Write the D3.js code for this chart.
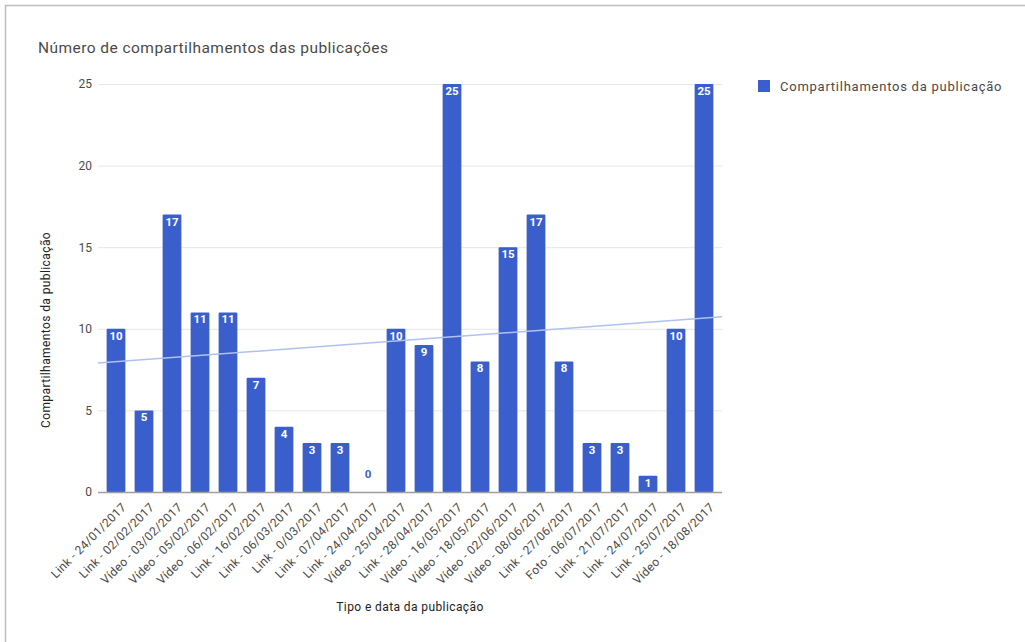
<!DOCTYPE html>
<html>
<head>
<meta charset="utf-8">
<script src="https://cdn.jsdelivr.net/npm/d3@7"></script>
<style>
  html, body { margin: 0; padding: 0; background: #fff; }
  svg { display: block; font-family: Roboto, "Liberation Sans", Arial, sans-serif; }
</style>
</head>
<body>
<svg id="chart" width="1025" height="642"></svg>
<script>
// Publication type and date
const categories = [
  "Link - 24/01/2017", "Link - 02/02/2017", "Vídeo - 03/02/2017", "Vídeo - 05/02/2017",
  "Vídeo - 06/02/2017", "Link - 16/02/2017", "Link - 06/03/2017", "Link - 0/03/2017",
  "Link - 07/04/2017", "Link - 24/04/2017", "Vídeo - 25/04/2017", "Link - 28/04/2017",
  "Vídeo - 16/05/2017", "Vídeo - 18/05/2017", "Vídeo - 02/06/2017", "Vídeo - 08/06/2017",
  "Link - 27/06/2017", "Foto - 06/07/2017", "Link - 21/07/2017", "Link - 24/07/2017",
  "Link - 25/07/2017", "Vídeo - 18/08/2017"
];
// Shares per publication
const shares = [10, 5, 17, 11, 11, 7, 4, 3, 3, 0, 10, 9, 25, 8, 15, 17, 8, 3, 3, 1, 10, 25];
const yTicks = [0, 5, 10, 15, 20, 25];

const titleText = "Número de compartilhamentos das publicações";
const seriesName = "Compartilhamentos da publicação";
const xTitle = "Tipo e data da publicação";
const yTitle = "Compartilhamentos da publicação";

const barColor = "#3a5fcd";
const trendColor = "#b0c1f0";
const textColor = "#4a4a4a";

const svg = d3.select("#chart");

// Frame lines on the top and left edges
svg.append("line").attr("x1", 5.5).attr("x2", 5.5).attr("y1", 5).attr("y2", 642)
  .attr("stroke", "#bdbdbd").attr("stroke-width", 1.5);
svg.append("line").attr("x1", 5).attr("x2", 1025).attr("y1", 5.5).attr("y2", 5.5)
  .attr("stroke", "#bdbdbd").attr("stroke-width", 1.5);

const plot = { left: 98, right: 722, top: 84, bottom: 492 };

const x = d3.scaleBand()
  .domain(categories)
  .range([102, 718])
  .paddingInner(0.33)
  .paddingOuter(0.165);

const y = d3.scaleLinear().domain([0, 25]).range([plot.bottom, plot.top]);

// Gridlines
svg.append("g").selectAll("line").data(yTicks.filter(t => t > 0)).join("line")
  .attr("x1", plot.left).attr("x2", plot.right)
  .attr("y1", d => y(d) + 0.5).attr("y2", d => y(d) + 0.5)
  .attr("stroke", "#e6e6e6").attr("stroke-width", 1);

// Y axis labels
const yAxis = d3.axisLeft(y).tickValues(yTicks).tickSize(0).tickPadding(0);
const yg = svg.append("g").attr("transform", `translate(${plot.left - 6},0)`).call(yAxis);
yg.select(".domain").remove();
yg.selectAll("text").attr("fill", textColor).attr("font-size", 12)
  .attr("font-family", "Roboto, 'Liberation Sans', Arial, sans-serif");

// Bars
svg.append("g").selectAll("rect").data(shares).join("rect")
  .attr("x", (d, i) => x(categories[i]))
  .attr("width", x.bandwidth())
  .attr("y", d => y(d))
  .attr("height", d => plot.bottom - y(d))
  .attr("rx", 1)
  .attr("fill", barColor);

// Baseline
svg.append("line").attr("x1", plot.left).attr("x2", plot.right)
  .attr("y1", plot.bottom + 0.5).attr("y2", plot.bottom + 0.5)
  .attr("stroke", "#9e9e9e").attr("stroke-width", 1.5);

// Linear trend line (least squares over category index)
const mx = d3.mean(shares, (d, i) => i);
const my = d3.mean(shares);
const sxy = d3.sum(shares, (d, i) => (i - mx) * (d - my));
const sxx = d3.sum(shares, (d, i) => (i - mx) * (i - mx));
const slope = sxy / sxx;
const intercept = my - slope * mx;
const xToIdx = px => (px - (x(categories[0]) + x.bandwidth() / 2)) / x.step();
const trendPts = [plot.left, plot.right].map(px => [px, y(intercept + slope * xToIdx(px))]);
svg.append("path")
  .attr("d", d3.line()(trendPts))
  .attr("stroke", trendColor).attr("stroke-width", 1.5).attr("fill", "none");

// Value labels
svg.append("g").selectAll("text").data(shares).join("text")
  .attr("x", (d, i) => x(categories[i]) + x.bandwidth() / 2)
  .attr("y", d => d > 0 ? y(d) + 11 : y(d) - 14)
  .attr("text-anchor", "middle")
  .attr("font-size", 11.5)
  .attr("font-weight", "bold")
  .attr("fill", d => d > 0 ? "#fff" : barColor)
  .text(d => d);

// X axis labels, rotated
const xg = svg.append("g").attr("transform", `translate(0,${plot.bottom + 10})`);
xg.selectAll("text").data(categories).join("text")
  .attr("transform", d => `translate(${x(d) + x.bandwidth() / 2 + 5},0) rotate(-45)`)
  .attr("text-anchor", "end")
  .attr("dy", "0.7em")
  .attr("font-size", 12)
  .attr("letter-spacing", 0.3)
  .attr("fill", textColor)
  .text(d => d);

// Axis titles
svg.append("text")
  .attr("x", (plot.left + plot.right) / 2).attr("y", 611)
  .attr("text-anchor", "middle").attr("font-size", 12).attr("letter-spacing", 0.4)
  .attr("fill", "#222")
  .text(xTitle);
svg.append("text")
  .attr("transform", `translate(50,${(plot.top + plot.bottom) / 2 + 42}) rotate(-90)`)
  .attr("text-anchor", "middle").attr("font-size", 12).attr("letter-spacing", 0.4)
  .attr("fill", "#222")
  .text(yTitle);

// Chart title
svg.append("text")
  .attr("x", 38).attr("y", 53)
  .attr("font-size", 15.5).attr("letter-spacing", 0.45).attr("fill", textColor)
  .text(titleText);

// Legend
svg.append("rect").attr("x", 758).attr("y", 80).attr("width", 12).attr("height", 12)
  .attr("fill", barColor);
svg.append("text").attr("x", 780).attr("y", 91)
  .attr("font-size", 13).attr("letter-spacing", 0.75).attr("fill", textColor)
  .text(seriesName);
</script>
</body>
</html>
